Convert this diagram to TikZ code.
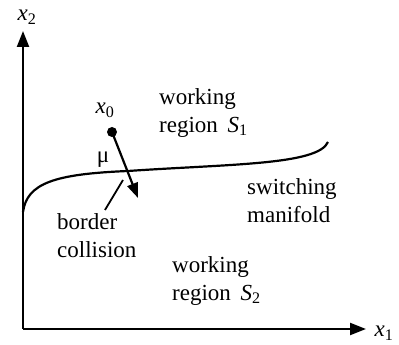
\documentclass[tikz,border=0pt]{standalone}
\usepackage{fontspec}
\setmainfont{Liberation Serif}
\usetikzlibrary{arrows.meta,positioning}
\tikzset{
  lbl/.style={inner sep=0pt, align=left, font=\fontsize{23}{28}\selectfont},
  axis/.style={line width=2.2pt, -{Triangle[length=16pt,width=12pt]}},
}
\newcommand{\vr}[2]{\textit{#1}\textsubscript{#2}}
\begin{document}
\begin{tikzpicture}[x=1pt,y=1pt]
		\useasboundingbox (0,0) rectangle (399,345);
		% axes
		\coordinate (O) at (23,16);
		\coordinate (Xend) at (366,16);
		\coordinate (Yend) at (23,314);
		\draw[axis] (O) -- (Yend);
		\draw[axis] (O) -- (Xend);
		\node[lbl](X1) at (384,12){\vr{x}{1}};
		\node[lbl](X2) at (27,328){\vr{x}{2}};
		% switching manifold
		\coordinate (C0) at (23,133);
		\coordinate (C1) at (128,174);
		\coordinate (C2) at (328,203);
		\draw[line width=2.2pt] (C0) .. controls (27,162) and (55,171) .. (C1)
		  .. controls (230,181) and (318,180) .. (C2);
		% initial point and shift
		\node[circle, fill, inner sep=0pt, minimum size=10pt](P) at (112,213){};
		\node[lbl](X0) at (105,235){\vr{x}{0}};
		\coordinate (Pend) at (138,147);
		\draw[line width=2.2pt, -{Triangle[length=15pt,width=11pt]}] (P.center) -- (Pend);
		\node[lbl](Mu) at (103,185){μ};
		% labels
		\node[lbl, anchor=north west](S1) at (159,257){working\\region \,\vr{S}{1}};
		\node[lbl, anchor=north west](SM) at (247,167){switching\\manifold};
		\node[lbl, anchor=north west](S2) at (172,89){working\\region \,\vr{S}{2}};
		\node[lbl, anchor=north west](BC) at (57,132){border\\collision};
		\coordinate (BCtop) at (105,135);
		\coordinate (Hit) at (123,165);
		\draw[line width=1.8pt] (BCtop) -- (Hit);
\end{tikzpicture}
\end{document}
